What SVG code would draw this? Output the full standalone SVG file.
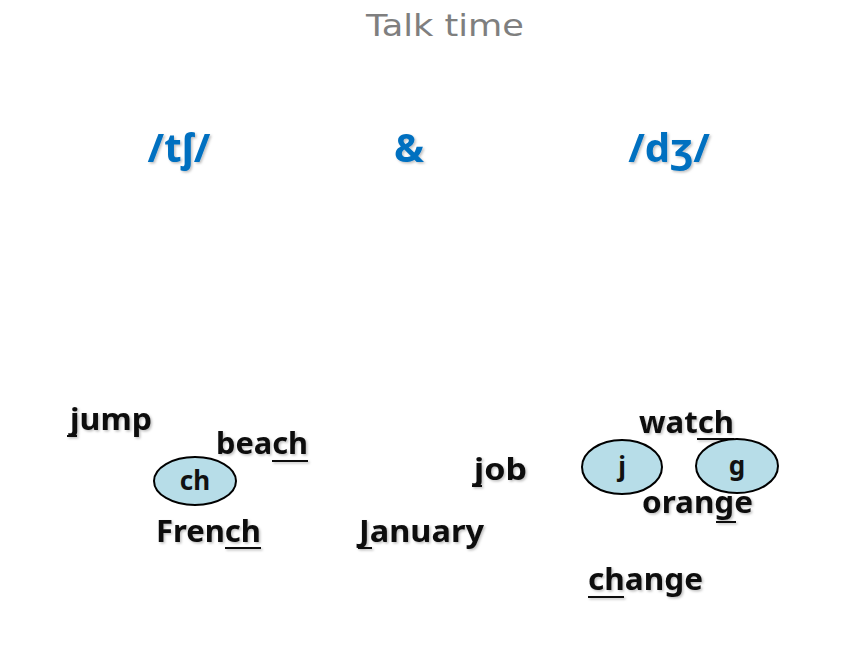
<svg xmlns="http://www.w3.org/2000/svg" width="860" height="645" viewBox="0 0 860 645">
<defs>
<filter id="sh" x="-10%" y="-30%" width="130%" height="180%">
<feDropShadow dx="1.5" dy="1.5" stdDeviation="0.8" flood-color="#000" flood-opacity="0.25"/>
</filter>
</defs>
<style>
.w{font-family:"Noto Sans","Open Sans",sans-serif;font-weight:bold;font-size:30px;fill:#111}
.ul{stroke:#111;stroke-width:2}
.ipa{font-family:"Noto Sans","DejaVu Sans",sans-serif;font-weight:bold;font-size:40px;fill:#0070C0;text-anchor:middle;filter:url(#sh)}
.el{fill:#B7DDE8;stroke:#000;stroke-width:2}
.el-t{font-family:"Noto Sans",sans-serif;font-weight:bold;font-size:26px;fill:#111;text-anchor:middle}
.title{font-family:"DejaVu Sans",sans-serif;font-size:31px;fill:#7f7f7f;text-anchor:middle}
</style>
<rect width="860" height="645" fill="#fff"/>
<g id="title"><text class="title" x="445" y="36" textLength="158" lengthAdjust="spacingAndGlyphs">Talk time</text></g>
<g id="ipa-tsh"><text class="ipa" x="179" y="162">/tʃ/</text></g>
<g id="amp"><text class="ipa" x="409" y="162">&amp;</text></g>
<g id="ipa-dzh"><text class="ipa" x="669" y="162">/dʒ/</text></g>
<g id="connectors"></g>
<g id="node-jump" filter="url(#sh)"><text class="w" x="70" y="430" textLength="82" lengthAdjust="spacingAndGlyphs">jump</text><line class="ul" x1="67" y1="436" x2="77" y2="436"/></g>
<g id="node-beach" filter="url(#sh)"><text class="w" x="216" y="454" textLength="92" lengthAdjust="spacingAndGlyphs">beach</text><line class="ul" x1="272" y1="461" x2="308" y2="461"/></g>
<g id="node-ch"><ellipse class="el" cx="195" cy="481" rx="41" ry="24"/><text class="el-t" x="195" y="490">ch</text></g>
<g id="node-french" filter="url(#sh)"><text class="w" x="156" y="542" textLength="105" lengthAdjust="spacingAndGlyphs">French</text><line class="ul" x1="225" y1="548" x2="261" y2="548"/></g>
<g id="node-job" filter="url(#sh)"><text class="w" x="474" y="480" textLength="53" lengthAdjust="spacingAndGlyphs">job</text><line class="ul" x1="472" y1="486" x2="482" y2="486"/></g>
<g id="node-january" filter="url(#sh)"><text class="w" x="359" y="542" textLength="125" lengthAdjust="spacingAndGlyphs">January</text><line class="ul" x1="358" y1="548" x2="372" y2="548"/></g>
<g id="node-watch" filter="url(#sh)"><text class="w" x="639" y="433" textLength="95" lengthAdjust="spacingAndGlyphs">watch</text><line class="ul" x1="697" y1="439" x2="734" y2="439"/></g>
<g id="node-j"><ellipse class="el" cx="622" cy="467" rx="40" ry="27"/><text class="el-t" x="622" y="476">j</text></g>
<g id="node-g"><ellipse class="el" cx="737" cy="466" rx="41" ry="27"/><text class="el-t" x="737" y="475">g</text></g>
<g id="node-orange" filter="url(#sh)"><text class="w" x="642" y="513" textLength="111" lengthAdjust="spacingAndGlyphs">orange</text><line class="ul" x1="716" y1="522" x2="736" y2="522"/></g>
<g id="node-change" filter="url(#sh)"><text class="w" x="588" y="590" textLength="115" lengthAdjust="spacingAndGlyphs">change</text><line class="ul" x1="588" y1="597" x2="624" y2="597"/></g>
</svg>
